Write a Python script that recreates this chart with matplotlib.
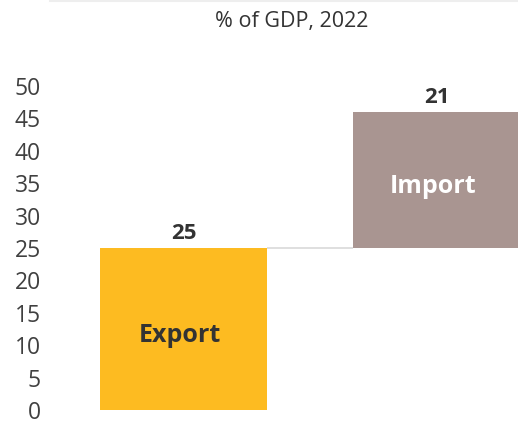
import matplotlib
matplotlib.use("Agg")
import matplotlib.pyplot as plt
from matplotlib.lines import Line2D

categories = ["Export", "Import"]
values = [25, 21]
bases = [0, 25]
colors = ["#FDBB21", "#A99591"]
label_colors = ["#333333", "#FFFFFF"]
yticks = [0, 5, 10, 15, 20, 25, 30, 35, 40, 45, 50]
title = "% of GDP, 2022"

plt.rcParams["font.family"] = ["Open Sans", "DejaVu Sans"]

W, H = 518, 423
fig = plt.figure(figsize=(W / 100, H / 100), dpi=100)
ax = fig.add_axes([57 / W, 13 / H, (518 - 57) / W, (410 - 86) / H])

x = list(range(len(categories)))
width = 0.664
ax.bar(x, values, bottom=bases, width=width, color=colors, zorder=3)

# connector between the end of one bar and the start of the next
for i in range(len(categories) - 1):
    level = bases[i] + values[i]
    ax.plot([x[i] + width / 2, x[i + 1] - width / 2], [level, level],
            color="#D9D9D9", lw=1.2, zorder=2, solid_capstyle="butt")

for i, (b, v) in enumerate(zip(bases, values)):
    ax.text(x[i], b + v + 0.6, f"{v}", ha="center", va="bottom",
            fontsize=16, fontweight="bold", color="#333333", clip_on=False)
    ax.text(x[i] - 0.015, b + v / 2 - 1.0, categories[i], ha="center", va="center",
            fontsize=18, fontweight="bold", color=label_colors[i])

ax.set_xlim(-0.5, (518 - 57) / 253 - 0.5)
ax.set_ylim(0, 50)
ax.set_yticks(yticks)
ax.set_yticklabels([str(t) for t in yticks], fontsize=16.5, color="#404040")
ax.tick_params(axis="y", length=0, pad=11.5)
ax.set_xticks([])
for s in ax.spines.values():
    s.set_visible(False)

fig.text(292 / W, 1 - 22 / H, title, ha="center", va="center",
         fontsize=15.5, color="#333333")
fig.add_artist(Line2D([50 / W, 1], [1 - 1 / H, 1 - 1 / H],
                      transform=fig.transFigure, color="#EEEEEE", lw=1.5))

fig.savefig("out.png", dpi=100)
